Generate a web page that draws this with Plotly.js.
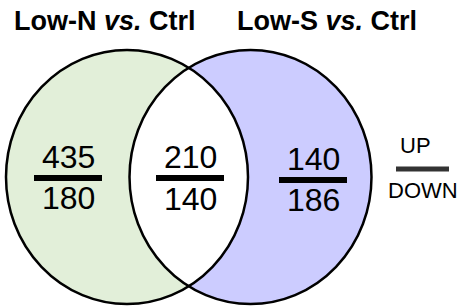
<!DOCTYPE html>
<html>
<head>
<meta charset="utf-8">
<script src="https://cdn.plot.ly/plotly-3.0.1.min.js"></script>
<style>html,body{margin:0;padding:0;background:#fff}#chart{width:462px;height:307px}</style>
</head>
<body>
<div id="chart"></div>
<script>
// ---- data ----
const setNames = ["Low-N <i>vs.</i> Ctrl", "Low-S <i>vs.</i> Ctrl"];
const regions = ["Low-N only", "Both", "Low-S only"];
const upCounts = [435, 210, 140];
const downCounts = [180, 140, 186];
const legendLabels = ["UP", "DOWN"];

// ---- layout geometry (pixels) ----
const W = 462, H = 307;
const L = {cx: 127, cy: 177, rx: 121, ry: 127};
const R = {cx: 250.5, cy: 177, rx: 121, ry: 127};
const titleX = [105, 327], titleY = 21;
const regionX = [68, 190, 313];
const barHalf = [34, 34, 34];
const barY = [178, 178, 180];
const upY = [157, 157, 159];
const downY = [198, 199, 200];
const legBarY = 169;

// lens (intersection) path
const xi = (L.cx + R.cx) / 2;
function lensPath() {
  const pts = [];
  const n = 60;
  const a0 = Math.acos((xi - L.cx) / L.rx);
  for (let i = 0; i <= n; i++) {
    const a = -a0 + (2 * a0) * i / n;
    pts.push([L.cx + L.rx * Math.cos(a), L.cy + L.ry * Math.sin(a)]);
  }
  const b0 = Math.acos((R.cx - xi) / R.rx);
  for (let i = 0; i <= n; i++) {
    const a = Math.PI - b0 + (2 * b0) * i / n;
    pts.push([R.cx + R.rx * Math.cos(a), R.cy + R.ry * Math.sin(a)]);
  }
  return "M" + pts.map(p => p[0].toFixed(2) + "," + p[1].toFixed(2)).join(" L") + " Z";
}

const shapes = [
  {type: "circle", xref: "x", yref: "y", x0: L.cx - L.rx, x1: L.cx + L.rx, y0: L.cy - L.ry, y1: L.cy + L.ry,
   fillcolor: "#e2efd9", line: {width: 0}, layer: "below"},
  {type: "circle", xref: "x", yref: "y", x0: R.cx - R.rx, x1: R.cx + R.rx, y0: R.cy - R.ry, y1: R.cy + R.ry,
   fillcolor: "#ccccff", line: {width: 0}, layer: "below"},
  {type: "path", xref: "x", yref: "y", path: lensPath(), fillcolor: "#ffffff", line: {width: 0}, layer: "below"},
  {type: "circle", xref: "x", yref: "y", x0: L.cx - L.rx, x1: L.cx + L.rx, y0: L.cy - L.ry, y1: L.cy + L.ry,
   fillcolor: "rgba(0,0,0,0)", line: {width: 2.5, color: "#000"}, layer: "below"},
  {type: "circle", xref: "x", yref: "y", x0: R.cx - R.rx, x1: R.cx + R.rx, y0: R.cy - R.ry, y1: R.cy + R.ry,
   fillcolor: "rgba(0,0,0,0)", line: {width: 2.5, color: "#000"}, layer: "below"}
];
regions.forEach((r, i) => {
  shapes.push({type: "line", xref: "x", yref: "y", x0: regionX[i] - barHalf[i], x1: regionX[i] + barHalf[i],
    y0: barY[i], y1: barY[i], line: {width: 6, color: "#000"}});
});
shapes.push({type: "line", xref: "x", yref: "y", x0: 396, x1: 449, y0: legBarY, y1: legBarY,
  line: {width: 5, color: "#333"}});

const fam = "Liberation Sans, Arial, sans-serif";
const numFont = {family: fam, size: 32, color: "#000"};
const annotations = [];
setNames.forEach((t, i) => {
  annotations.push({x: titleX[i], y: titleY, xref: "x", yref: "y", text: "<b>" + t + "</b>", showarrow: false,
    xanchor: "center", yanchor: "middle", font: {family: fam, size: 27, color: "#000"}});
});
regions.forEach((r, i) => {
  annotations.push({x: regionX[i], y: upY[i], xref: "x", yref: "y", text: String(upCounts[i]), showarrow: false,
    xanchor: "center", yanchor: "middle", font: numFont});
  annotations.push({x: regionX[i], y: downY[i], xref: "x", yref: "y", text: String(downCounts[i]), showarrow: false,
    xanchor: "center", yanchor: "middle", font: numFont});
});
annotations.push({x: 415, y: 145, xref: "x", yref: "y", text: legendLabels[0], showarrow: false,
  xanchor: "center", yanchor: "middle", font: {family: fam, size: 22, color: "#000"}});
annotations.push({x: 423, y: 190, xref: "x", yref: "y", text: legendLabels[1], showarrow: false,
  xanchor: "center", yanchor: "middle", font: {family: fam, size: 22, color: "#000"}});

const layout = {
  width: W, height: H,
  margin: {l: 0, r: 0, t: 0, b: 0, pad: 0},
  paper_bgcolor: "#fff", plot_bgcolor: "#fff",
  xaxis: {range: [0, W], visible: false, fixedrange: true},
  yaxis: {range: [H, 0], visible: false, fixedrange: true},
  showlegend: false,
  shapes: shapes,
  annotations: annotations
};
Plotly.newPlot("chart", [{x: [], y: [], type: "scatter", mode: "markers", hoverinfo: "skip"}], layout,
  {staticPlot: true, displayModeBar: false});
</script>
</body>
</html>
